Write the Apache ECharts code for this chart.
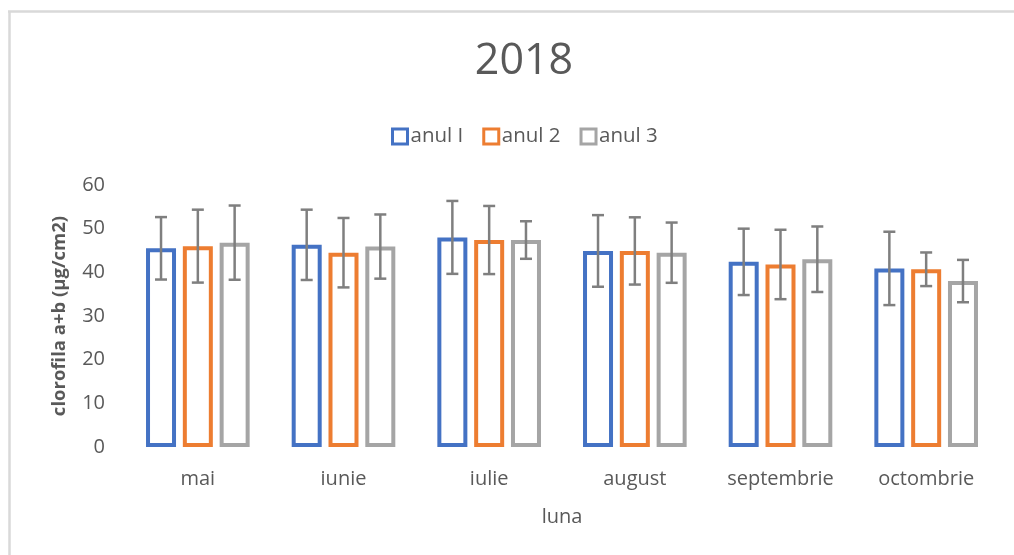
<!DOCTYPE html>
<html>
<head>
<meta charset="utf-8">
<script src="https://cdn.jsdelivr.net/npm/echarts@6/dist/echarts.min.js"></script>
<style>html,body{margin:0;padding:0;background:#fff}#c{width:1014px;height:555px}</style>
</head>
<body>
<div id="c"></div>
<script>
var titleText = '2018';
var categories = ['mai', 'iunie', 'iulie', 'august', 'septembrie', 'octombrie'];
var seriesNames = ['anul I', 'anul 2', 'anul 3'];
var anul1 = [45.5, 46.3, 48.0, 44.9, 42.4, 40.9];
var anul2 = [46.0, 44.5, 47.4, 44.9, 41.8, 40.7];
var anul3 = [46.8, 45.9, 47.4, 44.5, 43.0, 38.0];
var err1 = [7.15, 8.05, 8.35, 8.2, 7.6, 8.4];
var err2 = [8.35, 7.95, 7.8, 7.7, 7.95, 3.85];
var err3 = [8.5, 7.35, 4.3, 6.9, 7.5, 4.85];
var yTicks = [0, 10, 20, 30, 40, 50, 60];
var yName = 'clorofila a+b (µg/cm2)';
var xName = 'luna';

var colors = ['#4472C4', '#ED7D31', '#A5A5A5'];
var FONT = 'Open Sans';
var TXT = '#595959';
var BAR_W = 30, GAP = 0.227;

var values = [anul1, anul2, anul3];
var errs = [err1, err2, err3];

var series = [];
values.forEach(function (v, i) {
  series.push({
    name: seriesNames[i], type: 'bar', data: v,
    barWidth: BAR_W, barGap: (GAP * 100) + '%',
    itemStyle: { color: '#fff', borderColor: colors[i], borderWidth: 4 },
    emphasis: { disabled: true }, z: 2
  });
});
values.forEach(function (v, i) {
  var data = v.map(function (m, k) { return [k, m, errs[i][k]]; });
  series.push({
    type: 'custom', z: 5, silent: true,
    data: data,
    encode: { x: 0, y: 1 },
    renderItem: function (params, api) {
      var k = api.value(0), m = api.value(1), e = api.value(2);
      var off = (i - 1) * BAR_W * (1 + GAP);
      var top = api.coord([k, m + e]);
      var bot = api.coord([k, m - e]);
      var x = top[0] + off;
      var cap = 6;
      var st = { stroke: '#7f7f7f', lineWidth: 2.5 };
      return {
        type: 'group',
        children: [
          { type: 'line', shape: { x1: x, y1: top[1], x2: x, y2: bot[1] }, style: st },
          { type: 'line', shape: { x1: x - cap, y1: top[1], x2: x + cap, y2: top[1] }, style: st },
          { type: 'line', shape: { x1: x - cap, y1: bot[1], x2: x + cap, y2: bot[1] }, style: st }
        ]
      };
    }
  });
});

var chart = echarts.init(document.getElementById('c'), null, { renderer: 'canvas' });
chart.setOption({
  animation: false,
  backgroundColor: '#fff',
  textStyle: { fontFamily: FONT },
  title: {
    text: titleText, left: 519, top: 35, textAlign: 'center',
    textStyle: { fontFamily: FONT, fontSize: 43, fontWeight: 'normal', color: TXT }
  },
  legend: {
    left: 386, top: 121, itemWidth: 15, itemHeight: 15, itemGap: 19,
    icon: 'rect',
    textStyle: { fontFamily: FONT, fontSize: 20.5, color: TXT, padding: [0, 0, 0, -2] },
    data: seriesNames.map(function (n, i) {
      return { name: n, itemStyle: { color: '#fff', borderColor: colors[i], borderWidth: 3 } };
    })
  },
  grid: { left: 125, right: 15, top: 185, bottom: 108, containLabel: false },
  xAxis: {
    type: 'category', data: categories,
    axisLine: { show: false }, axisTick: { show: false },
    axisLabel: { fontFamily: FONT, fontSize: 20, color: TXT, margin: 22 },
    name: xName, nameLocation: 'middle', nameGap: 60,
    nameTextStyle: { fontFamily: FONT, fontSize: 20, color: TXT }
  },
  yAxis: {
    type: 'value', min: yTicks[0], max: yTicks[yTicks.length - 1], interval: 10,
    axisLine: { show: false }, axisTick: { show: false }, splitLine: { show: false },
    axisLabel: { fontFamily: FONT, fontSize: 20, color: TXT, margin: 20 },
    name: yName, nameLocation: 'middle', nameGap: 56,
    nameTextStyle: { fontFamily: FONT, fontSize: 18.5, fontWeight: 'bold', color: TXT }
  },
  graphic: [
    { type: 'line', shape: { x1: 9.5, y1: 11, x2: 9.5, y2: 555 }, style: { stroke: '#d9d9d9', lineWidth: 2.5 }, silent: true },
    { type: 'line', shape: { x1: 8, y1: 11.5, x2: 1014, y2: 11.5 }, style: { stroke: '#d9d9d9', lineWidth: 2.5 }, silent: true }
  ],
  series: series
});
</script>
</body>
</html>
